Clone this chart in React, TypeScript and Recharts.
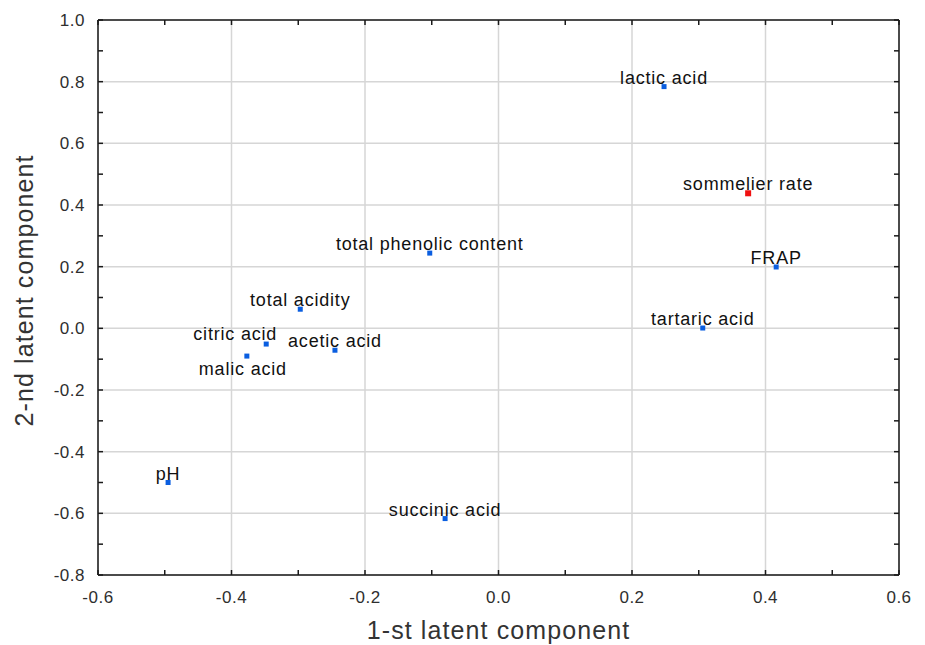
import React from "react";
import { ScatterChart, Scatter, XAxis, YAxis, CartesianGrid } from "recharts";

const variableNames = [
  "lactic acid",
  "FRAP",
  "tartaric acid",
  "total phenolic content",
  "total acidity",
  "citric acid",
  "acetic acid",
  "malic acid",
  "pH",
  "succinic acid",
];
const variableX = [0.248, 0.416, 0.306, -0.103, -0.297, -0.348, -0.245, -0.377, -0.495, -0.08];
const variableY = [0.784, 0.199, 0.001, 0.244, 0.062, -0.051, -0.071, -0.09, -0.5, -0.617];

const targetNames = ["sommelier rate"];
const targetX = [0.374];
const targetY = [0.438];

const xTicks = [-0.6, -0.5, -0.4, -0.3, -0.2, -0.1, 0, 0.1, 0.2, 0.3, 0.4, 0.5, 0.6];
const yTicks = [-0.8, -0.7, -0.6, -0.5, -0.4, -0.3, -0.2, -0.1, 0, 0.1, 0.2, 0.3, 0.4, 0.5, 0.6, 0.7, 0.8, 0.9, 1.0];
const xMajor = [-0.6, -0.4, -0.2, 0, 0.2, 0.4, 0.6];
const yMajor = [-0.8, -0.6, -0.4, -0.2, 0, 0.2, 0.4, 0.6, 0.8, 1.0];

const variableData = variableNames.map((name, i) => ({ name, x: variableX[i], y: variableY[i] }));
const targetData = targetNames.map((name, i) => ({ name, x: targetX[i], y: targetY[i] }));

const FONT = "'Liberation Sans', Arial, sans-serif";
const AXIS_COLOR = "#1a1a1a";

const labelNudge: Record<string, { dx: number; dy: number }> = {
  "citric acid": { dx: -31, dy: -4 },
  "malic acid": { dx: -4, dy: 19 },
};

const isMajor = (v: number, majors: number[]) => majors.some((m) => Math.abs(m - v) < 1e-9);
const fmtX = (v: number) => (isMajor(v, xMajor) ? v.toFixed(1) : "");
const fmtY = (v: number) => (isMajor(v, yMajor) ? v.toFixed(1) : "");
const blank = () => "";

const makeShape = (color: string, size: number) => (props: any) => {
  const { cx, cy, payload } = props;
  if (cx == null || cy == null) return <g />;
  const nudge = labelNudge[payload.name] || { dx: 0, dy: -3 };
  return (
    <g>
      <rect x={cx - size / 2} y={cy - size / 2} width={size} height={size} fill={color} />
      <text
        x={cx + nudge.dx}
        y={cy + nudge.dy}
        textAnchor="middle"
        fontSize={18}
        letterSpacing={0.8}
        fontFamily={FONT}
        fill="#111"
      >
        {payload.name}
      </text>
    </g>
  );
};

const tickStyle = { fill: "#2e2e2e", fontSize: 17, fontFamily: FONT, letterSpacing: 0.5 };
const lineStyle = { stroke: AXIS_COLOR, strokeWidth: 1.5 };

export default function App() {
  return (
    <ScatterChart width={917} height={637} margin={{ top: 11, right: 25, bottom: 30, left: 30 }}>
      <CartesianGrid
        xAxisId="bottom"
        yAxisId="left"
        stroke="#d6d6d6"
        strokeWidth={1.5}
        verticalValues={xMajor}
        horizontalValues={yMajor}
      />
      <XAxis
        xAxisId="bottom"
        type="number"
        dataKey="x"
        domain={[-0.6, 0.6]}
        ticks={xTicks}
        interval={0}
        allowDataOverflow
        tickFormatter={fmtX}
        tickSize={-5}
        tickMargin={21}
        height={40}
        axisLine={lineStyle}
        tickLine={lineStyle}
        tick={tickStyle}
      />
      <XAxis
        xAxisId="top"
        orientation="top"
        type="number"
        dataKey="x"
        domain={[-0.6, 0.6]}
        ticks={xTicks}
        interval={0}
        allowDataOverflow
        tickFormatter={blank}
        tickSize={-5}
        height={1}
        axisLine={lineStyle}
        tickLine={lineStyle}
        tick={{ fontSize: 1 }}
      />
      <YAxis
        yAxisId="left"
        type="number"
        dataKey="y"
        domain={[-0.8, 1.0]}
        ticks={yTicks}
        interval={0}
        allowDataOverflow
        tickFormatter={fmtY}
        tickSize={-5}
        tickMargin={18}
        width={60}
        axisLine={lineStyle}
        tickLine={lineStyle}
        tick={tickStyle}
      />
      <YAxis
        yAxisId="right"
        orientation="right"
        type="number"
        dataKey="y"
        domain={[-0.8, 1.0]}
        ticks={yTicks}
        interval={0}
        allowDataOverflow
        tickFormatter={blank}
        tickSize={-5}
        width={1}
        axisLine={lineStyle}
        tickLine={lineStyle}
        tick={{ fontSize: 1 }}
      />
      <Scatter
        xAxisId="bottom"
        yAxisId="left"
        data={variableData}
        isAnimationActive={false}
        shape={makeShape("#0a5ee0", 5)}
      />
      <Scatter
        xAxisId="bottom"
        yAxisId="left"
        data={targetData}
        isAnimationActive={false}
        shape={makeShape("#f01010", 6)}
      />
      <Scatter
        xAxisId="top"
        yAxisId="right"
        data={variableData}
        isAnimationActive={false}
        shape={() => <g />}
      />
      <text
        x={490.5}
        y={631}
        textAnchor="middle"
        fontSize={25}
        letterSpacing={1.1}
        fontFamily={FONT}
        fill="#333"
      >
        1-st latent component
      </text>
      <text
        x={25}
        y={282.5}
        textAnchor="middle"
        fontSize={25}
        letterSpacing={1.1}
        fontFamily={FONT}
        fill="#333"
        transform="rotate(-90 25 282.5)"
      >
        2-nd latent component
      </text>
    </ScatterChart>
  );
}
